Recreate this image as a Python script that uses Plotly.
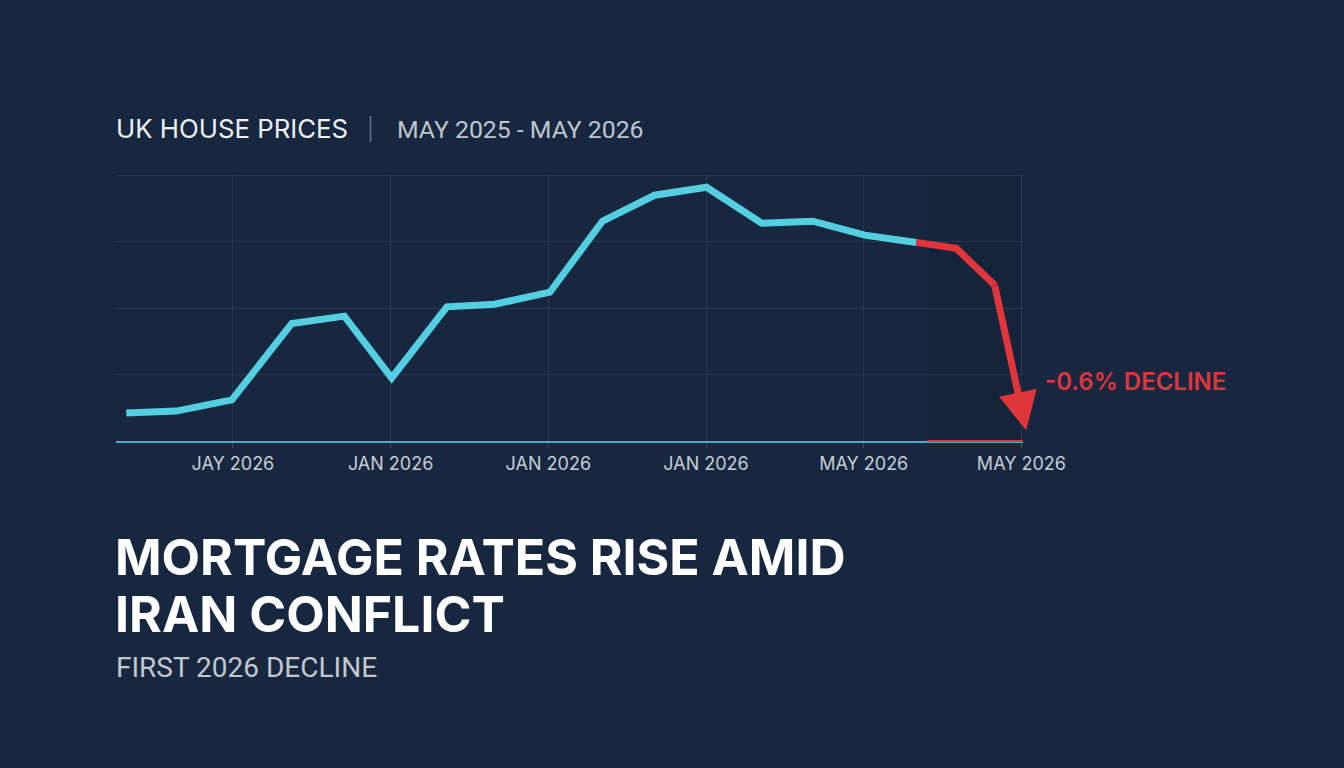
import plotly.graph_objects as go

# ---- data ----
months_cyan = [0.97, 1.92, 2.98, 4.12, 5.12, 6.02, 7.07, 7.98, 9.03, 10.03, 11.02, 12.01, 13.06, 14.03, 15.02, 16.0]
index_cyan = [0.42, 0.45, 0.62, 1.77, 1.88, 0.95, 2.02, 2.06, 2.24, 3.31, 3.70, 3.82, 3.28, 3.31, 3.10, 2.99]
months_red = [16.0, 16.76, 17.49]
index_red = [2.99, 2.90, 2.35]
arrow_tip_month = 18.09
arrow_tip_index = 0.16
tick_vals = [3, 6, 9, 12, 15, 18]
tick_text = ["JAY 2026", "JAN 2026", "JAN 2026", "JAN 2026", "MAY 2026", "MAY 2026"]
decline_start = 16.21

BG = "#16273f"
CYAN = "#54cfe2"
RED = "#e0353a"
GRID = "#27384e"

XMIN, XMAX = 0.776, 18.03
YMIN, YMAX = 0.0, 4.02

W, H = 1344, 768
L, R, T, B = 116, 1344 - 1022 - 1, 174, 768 - 441

fig = go.Figure()

fig.add_trace(go.Scatter(x=months_cyan, y=index_cyan, mode="lines",
                         line=dict(color=CYAN, width=7), hoverinfo="skip"))
fig.add_trace(go.Scatter(x=months_red, y=index_red, mode="lines+markers",
                         line=dict(color=RED, width=7),
                         marker=dict(size=[0, 0, 7], color=RED, line=dict(width=0)), hoverinfo="skip"))

# arrow for the final drop
fig.add_annotation(x=arrow_tip_month, y=arrow_tip_index, xref="x", yref="y",
                   ax=months_red[-1], ay=index_red[-1], axref="x", ayref="y",
                   showarrow=True, arrowhead=2, arrowsize=1.1, arrowwidth=7,
                   arrowcolor=RED, text="", standoff=0, startstandoff=0)

# darker shaded decline region
fig.add_shape(type="rect", xref="x", yref="y", x0=decline_start, x1=XMAX, y0=YMIN, y1=YMAX,
              fillcolor="#14243a", line=dict(width=0), layer="below")

# red part of the baseline
x0p = (decline_start - XMIN) / (XMAX - XMIN)
fig.add_shape(type="line", xref="paper", yref="paper", x0=x0p, x1=1, y0=0, y1=0,
              line=dict(color=RED, width=2))

pw = W - L - R
ph = H - T - B


def px(x):
    return (x - L) / pw


def py(y):
    return (H - B - y) / ph


# title row
fig.add_annotation(xref="paper", yref="paper", x=px(114), y=py(128), xanchor="left", yanchor="middle",
                   text="UK HOUSE PRICES", showarrow=False,
                   font=dict(family="Inter", size=25.8, color="#eef1f5"))
fig.add_shape(type="line", xref="paper", yref="paper", x0=px(370.5), x1=px(370.5), y0=py(116), y1=py(142),
              line=dict(color="#6b7789", width=1.5))
fig.add_annotation(xref="paper", yref="paper", x=px(395), y=py(129), xanchor="left", yanchor="middle",
                   text="MAY 2025 - MAY 2026", showarrow=False,
                   font=dict(family="Roboto", size=24.8, color="#bfc5cd"))

# decline label
fig.add_annotation(xref="paper", yref="paper", x=px(1043), y=py(381), xanchor="left", yanchor="middle",
                   text="-0.6% DECLINE", showarrow=False,
                   font=dict(family="Inter", size=24, color=RED, weight=600))

# headline
fig.add_annotation(xref="paper", yref="paper", x=px(113), y=py(557), xanchor="left", yanchor="middle",
                   text="MORTGAGE RATES RISE AMID", showarrow=False,
                   font=dict(family="Inter", size=50, color="#ffffff", weight=700))
fig.add_annotation(xref="paper", yref="paper", x=px(113), y=py(614), xanchor="left", yanchor="middle",
                   text="IRAN CONFLICT", showarrow=False,
                   font=dict(family="Inter", size=50, color="#ffffff", weight=700))
fig.add_annotation(xref="paper", yref="paper", x=px(114), y=py(667), xanchor="left", yanchor="middle",
                   text="FIRST 2026 DECLINE", showarrow=False,
                   font=dict(family="Roboto", size=28, color="#c3c8cf"))

fig.update_layout(
    width=W, height=H,
    margin=dict(l=L, r=R, t=T, b=B, pad=0),
    paper_bgcolor=BG, plot_bgcolor=BG,
    showlegend=False,
    xaxis=dict(range=[XMIN, XMAX], tickvals=tick_vals, ticktext=tick_text,
               showgrid=True, gridcolor=GRID, gridwidth=1, zeroline=False,
               showline=True, linecolor="#45aec6", linewidth=2,
               ticks="outside", ticklen=5, tickcolor="#3b4b60", tickwidth=1,
               tickfont=dict(family="Inter", size=18, color="#c8cdd4")),
    yaxis=dict(range=[YMIN, YMAX], tickvals=[1, 2, 3, 4], showticklabels=False,
               showgrid=True, gridcolor=GRID, gridwidth=1, zeroline=False, showline=False),
)

fig.write_html("out.html", config={"displayModeBar": False})
